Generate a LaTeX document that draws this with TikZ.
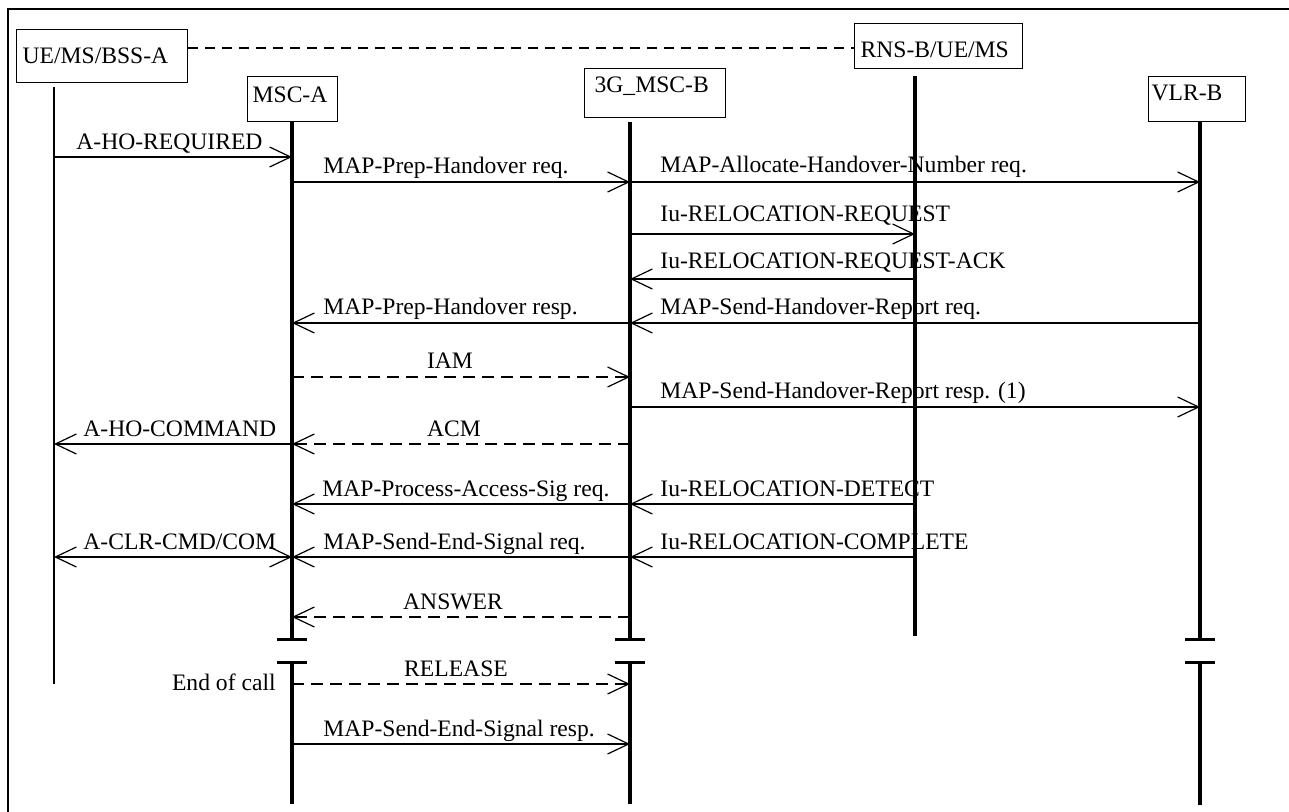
\documentclass[tikz,border=0pt]{standalone}
\usepackage{fontspec}
\setmainfont{Liberation Serif}
\usetikzlibrary{arrows.meta}

\begin{document}
\begin{tikzpicture}[x=0.5pt, y=-0.5pt,
    font=\fontsize{11.8pt}{14pt}\selectfont,
    ent/.style={draw, line width=0.65pt, inner ysep=0pt, align=left, anchor=north west},
    life/.style={line width=2pt},
    msg/.style={line width=0.6pt, -{Straight Barb[length=10.5pt, width=10pt, line width=0.6pt]}},
    dmsg/.style={msg, dash pattern=on 6pt off 3.5pt},
    bmsg/.style={line width=0.6pt, {Straight Barb[length=10.5pt, width=10pt, line width=0.6pt]}-{Straight Barb[length=10.5pt, width=10pt, line width=0.6pt]}},
    lbl/.style={anchor=base west, inner sep=0pt},
    clbl/.style={anchor=base, inner sep=0pt},
    brk/.style={line width=1.5pt}]
                \useasboundingbox (0,0) rectangle (1289,812);
                \draw[line width=1pt] (8,812) -- (8,9) -- (1289,9);

                % entities
                \node[ent, inner xsep=3pt, text width=79.5pt, text height=17pt, text depth=9.5pt] (ue) at (16,29) {UE/MS/BSS-A};
                \node[ent, inner xsep=2.5pt, text width=40pt, text height=13pt, text depth=9.5pt] (msca) at (247,76) {MSC-A};
                \node[ent, inner xsep=5pt, text width=60.5pt, text height=12pt, text depth=12.5pt] (mscb) at (584,68) {3G\_MSC-B};
                \node[ent, inner xsep=3pt, text width=78pt, text height=17pt, text depth=5.5pt] (rns) at (854,23) {RNS-B/UE/MS};
                \node[ent, inner xsep=1.5pt, text width=45.5pt, text height=12pt, text depth=10.5pt] (vlr) at (1148,76) {VLR-B};

                \draw[line width=0.65pt, dash pattern=on 5pt off 3.5pt] (ue.east |- 0,48) -- (rns.west |- 0,48);

                % lifelines
                \coordinate (ueT) at (54,87);
                \coordinate (ueB) at (54,684);
                \coordinate (mscaT) at (292,121);
                \coordinate (mscaE) at (292,639);
                \coordinate (mscaS) at (292,662);
                \coordinate (mscaB) at (292,804);
                \coordinate (mscbT) at (630,122);
                \coordinate (mscbE) at (630,639);
                \coordinate (mscbS) at (630,662);
                \coordinate (mscbB) at (630,804);
                \coordinate (rnsT) at (915,76);
                \coordinate (rnsB) at (915,636);
                \coordinate (vlrT) at (1200,121);
                \coordinate (vlrE) at (1200,639);
                \coordinate (vlrS) at (1200,662);
                \coordinate (vlrB) at (1200,805);

                \draw[line width=1pt] (ueT) -- (ueB);
                \draw[life] (mscaT) -- (mscaE);
                \draw[life] (mscaS) -- (mscaB);
                \draw[life] (mscbT) -- (mscbE);
                \draw[life] (mscbS) -- (mscbB);
                \draw[life] (rnsT) -- (rnsB);
                \draw[life] (vlrT) -- (vlrE);
                \draw[life] (vlrS) -- (vlrB);

                \draw[brk] ([xshift=-7.5pt]mscaE) -- ([xshift=7.5pt]mscaE);
                \draw[brk] ([xshift=-7.5pt]mscaS) -- ([xshift=7.5pt]mscaS);
                \draw[brk] ([xshift=-7.5pt]mscbE) -- ([xshift=7.5pt]mscbE);
                \draw[brk] ([xshift=-7.5pt]mscbS) -- ([xshift=7.5pt]mscbS);
                \draw[brk] ([xshift=-7.5pt]vlrE) -- ([xshift=7.5pt]vlrE);
                \draw[brk] ([xshift=-7.5pt]vlrS) -- ([xshift=7.5pt]vlrS);

                % messages
                \draw[msg] (ueT |- 0,157) -- (mscaT |- 0,157);
                \node[lbl] (tHoReq) at (76,150) {A-HO-REQUIRED};
                \draw[msg] (mscaT |- 0,182) -- (mscbT |- 0,182);
                \node[lbl] (tPrepReq) at (323,174) {MAP-Prep-Handover req.};
                \draw[msg] (mscbT |- 0,182) -- (vlrT |- 0,182);
                \node[lbl] (tAlloc) at (660,173) {MAP-Allocate-Handover-Number req.};
                \draw[msg] (mscbT |- 0,234) -- (rnsT |- 0,234);
                \node[lbl] (tRelReq) at (660,222) {Iu-RELOCATION-REQUEST};
                \draw[msg] (rnsT |- 0,279) -- (mscbT |- 0,279);
                \node[lbl] (tRelAck) at (660,269) {Iu-RELOCATION-REQUEST-ACK};
                \draw[msg] (mscbT |- 0,323) -- (mscaT |- 0,323);
                \node[lbl] (tPrepResp) at (323,315) {MAP-Prep-Handover resp.};
                \draw[msg] (vlrT |- 0,323) -- (mscbT |- 0,323);
                \node[lbl] (tRepReq) at (660,315) {MAP-Send-Handover-Report req.};
                \draw[dmsg] (mscaT |- 0,377) -- (mscbT |- 0,377);
                \node[clbl] (tIam) at (450,369) {IAM};
                \draw[msg] (mscbT |- 0,407) -- (vlrT |- 0,407);
                \node[lbl] (tRepResp) at (660,398) {MAP-Send-Handover-Report resp. (1)};
                \draw[msg] (mscaT |- 0,444) -- (ueT |- 0,444);
                \node[lbl] (tHoCmd) at (83,436) {A-HO-COMMAND};
                \draw[dmsg] (mscbT |- 0,444) -- (mscaT |- 0,444);
                \node[clbl] (tAcm) at (454,436) {ACM};
                \draw[msg] (mscbT |- 0,504) -- (mscaT |- 0,504);
                \node[lbl] (tAccess) at (322,496) {MAP-Process-Access-Sig req.};
                \draw[msg] (rnsT |- 0,504) -- (mscbT |- 0,504);
                \node[lbl] (tDetect) at (660,496) {Iu-RELOCATION-DETECT};
                \draw[bmsg] (ueT |- 0,557) -- (mscaT |- 0,557);
                \node[lbl] (tClr) at (83,549) {A-CLR-CMD/COM};
                \draw[msg] (mscbT |- 0,557) -- (mscaT |- 0,557);
                \node[lbl] (tEndReq) at (323,549) {MAP-Send-End-Signal req.};
                \draw[msg] (rnsT |- 0,557) -- (mscbT |- 0,557);
                \node[lbl] (tComplete) at (660,549) {Iu-RELOCATION-COMPLETE};
                \draw[dmsg] (mscbT |- 0,617) -- (mscaT |- 0,617);
                \node[clbl] (tAnswer) at (453,609) {ANSWER};
                \draw[dmsg] (mscaS |- 0,684) -- (mscbS |- 0,684);
                \node[clbl] (tRelease) at (456,676) {RELEASE};
                \node[anchor=base east, inner sep=0pt] (tEndCall) at (276,690) {End of call};
                \draw[msg] (mscaS |- 0,744) -- (mscbS |- 0,744);
                \node[lbl] (tEndResp) at (323,736) {MAP-Send-End-Signal resp.};
            \end{tikzpicture}
\end{document}
